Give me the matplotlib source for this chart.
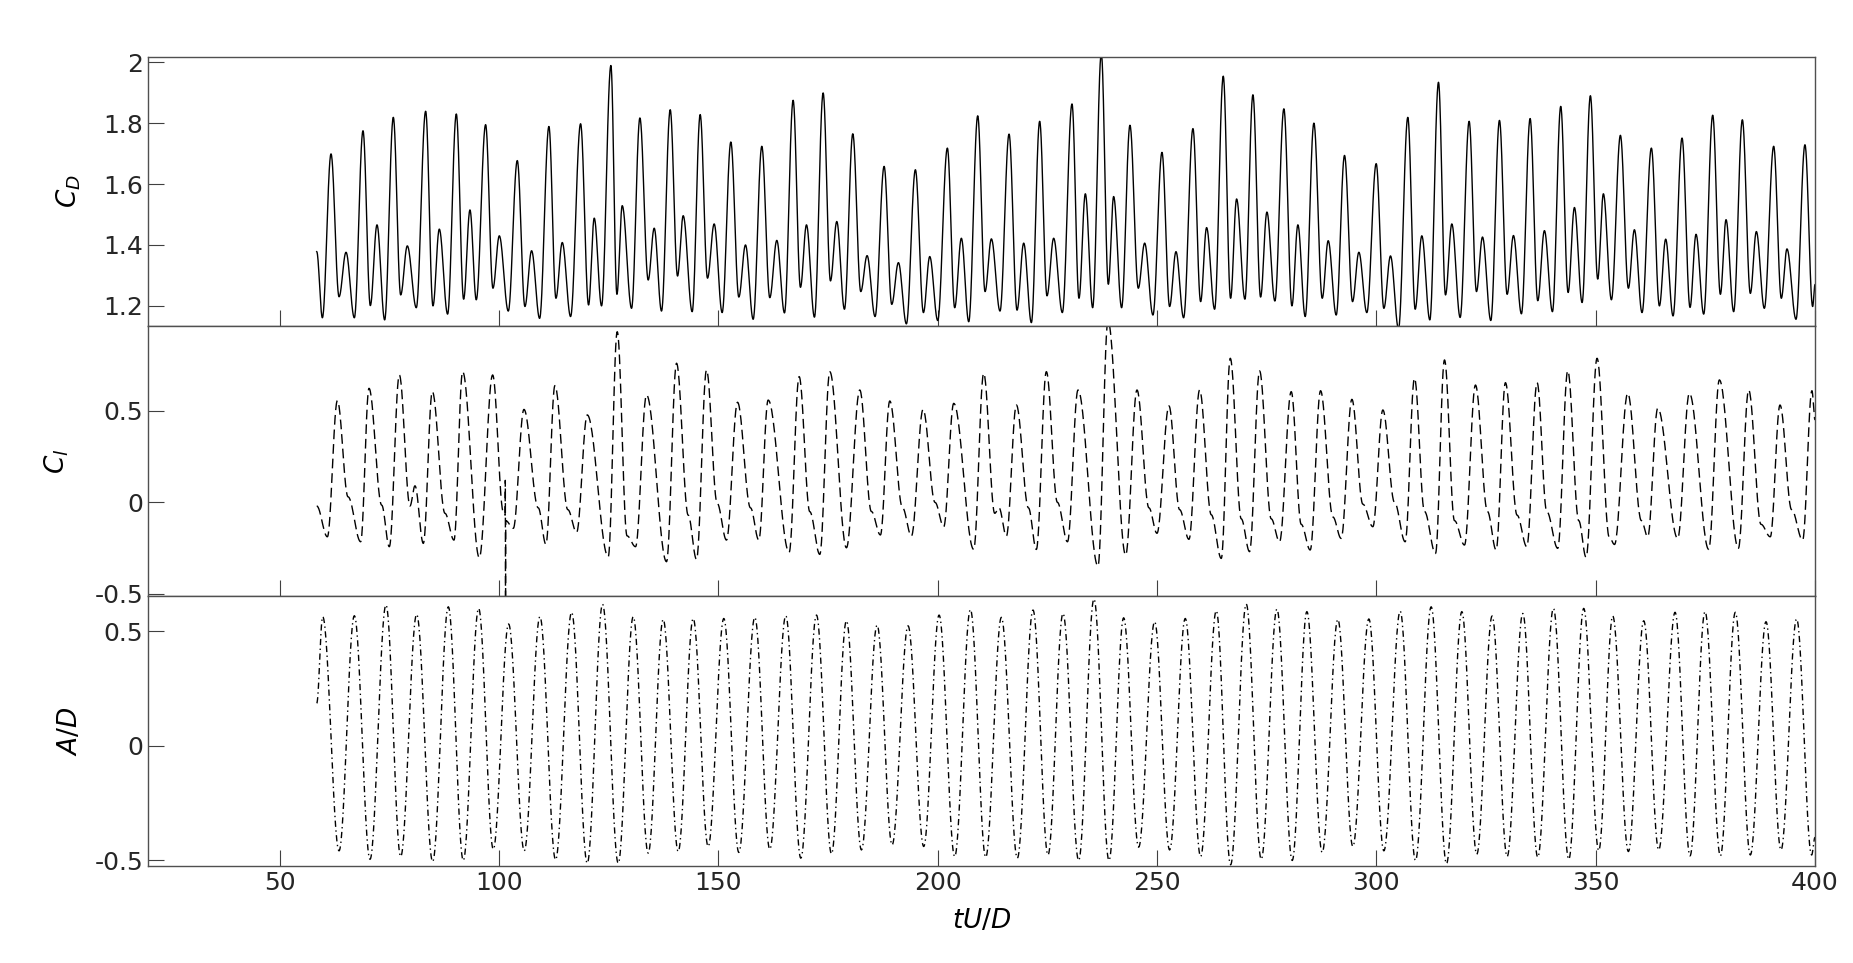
import numpy as np
import matplotlib
matplotlib.use("Agg")
import matplotlib.pyplot as plt

# extrema (time tU/D, value)
cd_t = [58.46, 59.75, 61.72, 63.55, 65.14, 67.04, 69.01, 70.68, 72.20, 73.95,
        75.92, 77.60, 79.11, 81.16, 83.29, 84.96, 86.40, 88.30, 90.28, 91.95,
        93.39, 94.83, 96.96, 98.63, 100.08, 102.13, 104.18, 105.92, 107.44, 109.27,
        111.39, 112.99, 114.43, 116.33, 118.61, 120.43, 121.72, 123.39, 125.52, 126.89,
        128.10, 130.23, 132.13, 134.02, 135.39, 137.06, 139.04, 140.71, 142.00, 144.05,
        145.87, 147.54, 149.06, 150.88, 152.86, 154.68, 156.20, 157.95, 159.92, 161.74,
        163.34, 165.09, 167.06, 168.73, 170.10, 171.92, 173.90, 175.57, 177.01, 178.76,
        180.66, 182.48, 183.92, 185.74, 187.80, 189.54, 191.06, 192.88, 194.93, 196.76,
        198.20, 200.02, 202.22, 203.89, 205.41, 207.09, 209.14, 210.81, 212.25, 214.22,
        216.28, 218.10, 219.62, 221.37, 223.26, 224.93, 226.45, 228.43, 230.63, 232.22,
        233.67, 235.34, 237.31, 238.91, 240.12, 241.94, 243.84, 245.74, 247.19, 249.08,
        251.14, 252.88, 254.33, 256.07, 258.20, 259.95, 261.31, 263.14, 265.11, 266.78,
        268.15, 270.05, 271.87, 273.62, 275.06, 276.88, 278.93, 280.76, 282.12, 283.79,
        285.77, 287.67, 289.03, 290.86, 292.75, 294.58, 296.02, 297.84, 299.97, 301.72,
        303.23, 305.06, 307.18, 308.86, 310.37, 312.20, 314.17, 315.77, 317.21, 319.11,
        321.16, 322.83, 324.20, 326.10, 328.07, 329.82, 331.26, 333.08, 335.06, 336.80,
        338.32, 340.15, 342.04, 343.72, 345.16, 346.91, 348.80, 350.47, 351.76, 353.59,
        355.64, 357.46, 358.83, 360.57, 362.70, 364.53, 365.96, 367.64, 369.69, 371.51,
        372.88, 374.63, 376.68, 378.43, 379.72, 381.46, 383.44, 385.26, 386.63, 388.45,
        390.58, 392.32, 393.61, 395.67, 397.71, 399.46, 400.0]
cd_v = [1.378, 1.161, 1.699, 1.230, 1.376, 1.161, 1.775, 1.201, 1.466, 1.154,
        1.819, 1.236, 1.397, 1.194, 1.839, 1.200, 1.452, 1.173, 1.830, 1.222,
        1.515, 1.220, 1.795, 1.258, 1.430, 1.183, 1.677, 1.198, 1.381, 1.159,
        1.789, 1.225, 1.408, 1.165, 1.798, 1.203, 1.488, 1.200, 1.989, 1.238,
        1.529, 1.192, 1.817, 1.285, 1.455, 1.183, 1.844, 1.298, 1.496, 1.181,
        1.828, 1.291, 1.469, 1.178, 1.738, 1.229, 1.400, 1.156, 1.724, 1.227,
        1.415, 1.177, 1.875, 1.261, 1.466, 1.163, 1.899, 1.282, 1.477, 1.189,
        1.765, 1.247, 1.365, 1.165, 1.658, 1.205, 1.342, 1.141, 1.647, 1.178,
        1.362, 1.152, 1.718, 1.194, 1.422, 1.148, 1.824, 1.247, 1.420, 1.183,
        1.764, 1.186, 1.406, 1.145, 1.806, 1.233, 1.422, 1.178, 1.863, 1.225,
        1.568, 1.194, 2.03, 1.271, 1.559, 1.194, 1.793, 1.258, 1.406, 1.170,
        1.704, 1.198, 1.378, 1.161, 1.782, 1.214, 1.457, 1.189, 1.954, 1.225,
        1.551, 1.222, 1.893, 1.229, 1.508, 1.216, 1.847, 1.200, 1.466, 1.165,
        1.800, 1.225, 1.414, 1.170, 1.694, 1.214, 1.376, 1.178, 1.667, 1.192,
        1.364, 1.125, 1.819, 1.189, 1.430, 1.154, 1.934, 1.236, 1.469, 1.162,
        1.806, 1.247, 1.426, 1.152, 1.809, 1.238, 1.431, 1.174, 1.815, 1.217,
        1.447, 1.181, 1.855, 1.244, 1.523, 1.211, 1.890, 1.288, 1.568, 1.220,
        1.760, 1.258, 1.450, 1.178, 1.718, 1.200, 1.419, 1.167, 1.751, 1.195,
        1.435, 1.173, 1.826, 1.238, 1.483, 1.181, 1.811, 1.241, 1.444, 1.192,
        1.724, 1.225, 1.387, 1.156, 1.729, 1.198, 1.27]

cl_t = [58.46, 60.89, 63.17, 65.6, 68.48, 70.38, 73.27, 75.01, 77.29, 79.72,
        80.86, 82.76, 84.81, 87.70, 89.75, 91.72, 95.52, 98.56, 100.99, 101.40,
        101.45, 101.50, 101.55, 103.27, 105.70, 108.96, 110.71, 112.76, 115.7, 117.70,
        120.13, 124.91, 126.96, 129.2, 131.14, 133.64, 138.20, 140.48, 143.14, 145.04,
        147.32, 149.74, 151.87, 154.38, 157.34, 159.24, 161.37, 166.15, 168.43, 170.86,
        173.14, 175.42, 179.21, 182.25, 184.9, 186.96, 189.09, 192.0, 194.02, 196.68,
        199.4, 201.39, 203.67, 208.22, 210.50, 213.01, 213.99, 215.67, 217.95, 220.7,
        222.50, 224.78, 227.3, 229.6, 232.0, 236.55, 238.83, 242.86, 245.44, 248.17,
        250.0, 252.73, 255.16, 257.29, 259.72, 262.38, 264.66, 266.71, 269.21, 271.11,
        273.39, 276.04, 277.94, 280.60, 282.88, 284.93, 287.29, 290.10, 291.99, 294.43,
        296.93, 299.21, 301.49, 304.15, 306.58, 308.70, 310.98, 313.49, 315.54, 317.82,
        320.1, 322.6, 325.34, 327.31, 329.43, 332.09, 334.30, 336.65, 338.85, 341.36,
        343.64, 346.14, 347.82, 350.32, 353.1, 354.3, 357.31, 360.43, 361.87, 364.15,
        368.70, 371.36, 375.77, 378.20, 382.53, 384.88, 387.69, 389.81, 392.02, 394.67,
        397.18, 399.30, 400.0]
cl_v = [-0.02, -0.188, 0.555, 0.03, -0.215, 0.622, -0.015, -0.242, 0.695, -0.02,
        0.09, -0.224, 0.604, -0.06, -0.206, 0.713, -0.302, 0.695, -0.051, -0.07,
        0.12, -0.7, -0.1, -0.142, 0.507, -0.03, -0.229, 0.637, -0.04, -0.164,
        0.477, -0.297, 0.931, -0.183, -0.242, 0.586, -0.324, 0.759, -0.07, -0.311,
        0.722, -0.005, -0.206, 0.546, -0.03, -0.206, 0.558, -0.273, 0.686, -0.051,
        -0.284, 0.713, -0.248, 0.613, -0.05, -0.178, 0.553, -0.03, -0.184, 0.507,
        0.0, -0.133, 0.540, -0.257, 0.704, -0.06, -0.03, -0.184, 0.531, -0.03,
        -0.257, 0.713, 0.0, -0.215, 0.613, -0.348, 0.99, -0.288, 0.613, -0.03,
        -0.169, 0.526, -0.04, -0.202, 0.613, -0.068, -0.306, 0.786, -0.09, -0.269,
        0.717, -0.09, -0.215, 0.604, -0.12, -0.260, 0.609, -0.08, -0.197, 0.562,
        -0.01, -0.133, 0.504, 0.0, -0.215, 0.677, -0.05, -0.279, 0.777, -0.1,
        -0.233, 0.640, -0.05, -0.26, 0.653, -0.07, -0.242, 0.653, -0.05, -0.251,
        0.718, -0.1, -0.300, 0.786, -0.19, -0.23, 0.595, -0.1, -0.188, 0.513,
        -0.197, 0.595, -0.257, 0.668, -0.251, 0.613, -0.12, -0.188, 0.531, -0.04,
        -0.206, 0.609, 0.45]

ad_t = [58.46, 59.82, 63.55, 67.04, 70.61, 74.25, 77.60, 81.24, 84.89, 88.46,
        91.87, 95.37, 98.71, 102.20, 105.77, 109.34, 112.91, 116.56, 120.13, 123.62,
        127.19, 130.61, 134.02, 137.44, 140.86, 144.28, 147.69, 151.26, 154.68, 158.33,
        161.74, 165.39, 168.81, 172.38, 175.80, 179.21, 182.63, 186.20, 189.62, 193.26,
        196.83, 200.33, 203.89, 207.47, 210.96, 214.53, 218.17, 221.74, 225.16, 228.58,
        232.15, 235.64, 239.06, 242.40, 245.82, 249.47, 252.88, 256.45, 259.95, 263.52,
        266.78, 270.35, 273.77, 277.34, 280.83, 284.17, 287.66, 291.23, 294.65, 298.30,
        301.72, 305.44, 308.93, 312.50, 316.0, 319.49, 322.9, 326.40, 329.82, 333.39,
        336.80, 340.37, 343.87, 347.28, 350.70, 353.89, 357.46, 360.96, 364.37, 368.10,
        371.51, 374.93, 378.43, 381.84, 385.26, 388.83, 392.25, 395.81, 399.23, 400.0]
ad_v = [0.185, 0.563, -0.459, 0.567, -0.496, 0.614, -0.484, 0.573, -0.506, 0.606,
        -0.501, 0.599, -0.452, 0.531, -0.459, 0.563, -0.498, 0.582, -0.513, 0.617,
        -0.513, 0.563, -0.469, 0.551, -0.462, 0.555, -0.440, 0.555, -0.466, 0.560,
        -0.452, 0.567, -0.491, 0.570, -0.472, 0.545, -0.455, 0.526, -0.433, 0.523,
        -0.440, 0.570, -0.484, 0.594, -0.487, 0.560, -0.491, 0.592, -0.477, 0.577,
        -0.501, 0.640, -0.501, 0.558, -0.443, 0.541, -0.455, 0.555, -0.484, 0.589,
        -0.520, 0.618, -0.496, 0.596, -0.501, 0.585, -0.466, 0.551, -0.440, 0.553,
        -0.459, 0.587, -0.501, 0.606, -0.515, 0.585, -0.474, 0.566, -0.484, 0.577,
        -0.487, 0.599, -0.496, 0.599, -0.458, 0.566, -0.462, 0.545, -0.455, 0.582,
        -0.481, 0.585, -0.481, 0.582, -0.477, 0.541, -0.455, 0.553, -0.477, -0.40]

xticks = [50, 100, 150, 200, 250, 300, 350, 400]


def trace(tk, vk, n=30):
    # smooth half-cosine path between consecutive read extrema
    ts, vs = [], []
    for i in range(len(tk) - 1):
        s = np.linspace(0, 1, n, endpoint=False)
        ts.append(tk[i] + (tk[i + 1] - tk[i]) * s)
        vs.append(vk[i] + (vk[i + 1] - vk[i]) * (1 - np.cos(np.pi * s)) / 2)
    ts.append([tk[-1]])
    vs.append([vk[-1]])
    return np.concatenate(ts), np.concatenate(vs)


fig = plt.figure(figsize=(18.53, 9.63), dpi=100)
left, width = 148 / 1853, 1667 / 1853
ax1 = fig.add_axes([left, 1 - 326 / 963, width, 269 / 963])
ax2 = fig.add_axes([left, 1 - 596 / 963, width, 270 / 963])
ax3 = fig.add_axes([left, 1 - 866 / 963, width, 270 / 963])

t, v = trace(cd_t, cd_v)
ax1.plot(t, v, color='black', lw=1.0, ls='-')
t, v = trace(cl_t, cl_v)
ax2.plot(t, v, color='black', lw=1.0, ls=(0, (7, 3.5)))
t, v = trace(ad_t, ad_v)
ax3.plot(t, v, color='black', lw=1.0, ls=(0, (4.5, 2.5, 1, 2.5)))

ax1.set_ylim(1.134, 2.017)
ax1.set_yticks([1.2, 1.4, 1.6, 1.8, 2.0])
ax1.set_yticklabels(['1.2', '1.4', '1.6', '1.8', '2'])
ax2.set_ylim(-0.511, 0.962)
ax2.set_yticks([-0.5, 0, 0.5])
ax2.set_yticklabels(['-0.5', '0', '0.5'])
ax3.set_ylim(-0.525, 0.653)
ax3.set_yticks([-0.5, 0, 0.5])
ax3.set_yticklabels(['-0.5', '0', '0.5'])

for ax in (ax1, ax2, ax3):
    ax.set_xlim(20, 400)
    ax.set_xticks(xticks)
    ax.tick_params(direction='in', length=11.5, width=0.8, color='#404040',
                   labelsize=18, labelcolor='#262626', top=False, right=False)
    for sp in ax.spines.values():
        sp.set_color('#505050')
        sp.set_linewidth(1.0)
ax1.tick_params(labelbottom=False)
ax2.tick_params(labelbottom=False)
ax3.set_xticklabels([str(x) for x in xticks])

ax1.set_ylabel(r'$C_D$', fontsize=19)
ax2.set_ylabel(r'$C_l$', fontsize=19)
ax3.set_ylabel(r'$A/D$', fontsize=19)
ax1.yaxis.set_label_coords(-0.039, 0.5)
ax2.yaxis.set_label_coords(-0.046, 0.5)
ax3.yaxis.set_label_coords(-0.039, 0.5)
ax3.set_xlabel(r'$tU/D$', fontsize=19)
ax3.xaxis.set_label_coords(0.5, -0.155)

fig.savefig('out.png', dpi=100)
